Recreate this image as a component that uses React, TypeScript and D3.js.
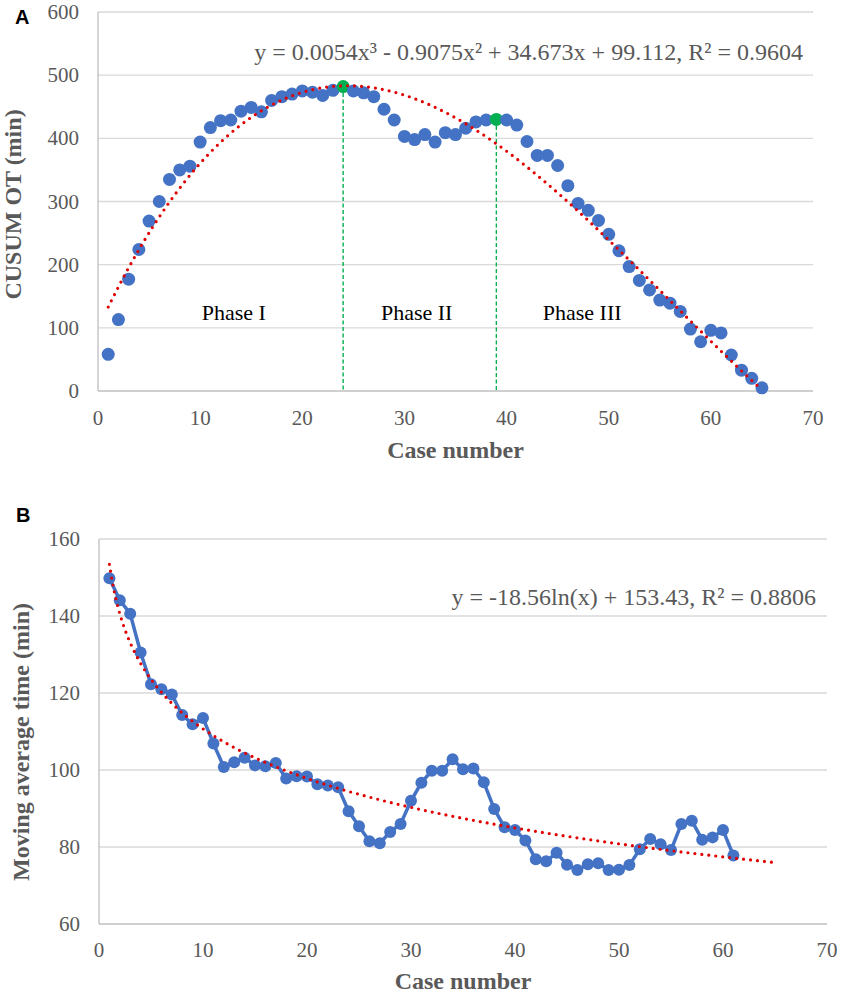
import * as d3 from "d3";
import React from "react";

// Panel A: CUSUM of operative time per case
const cusumOT = [
  58, 113, 177, 224, 269, 300, 335, 350, 356, 394,
  417, 428, 429, 443, 449, 442, 460, 466, 470, 475,
  473, 468, 476, 482, 475, 472, 466, 446, 429, 403,
  398, 406, 394, 409, 406, 416, 426, 429, 430, 429,
  421, 395, 373, 373, 357, 325, 297, 286, 270, 248,
  222, 197, 175, 160, 144, 139, 126, 98, 78, 96,
  92, 57, 33, 20, 5,
];
const turningCases = [24, 39];
const phaseLabels = ["Phase I", "Phase II", "Phase III"];
const phaseCenters = [13.3, 31.2, 47.4];
const polyCoef = [0.0054, -0.9075, 34.673, 99.112]; // x^3, x^2, x, c
const eqA = "y = 0.0054x³ - 0.9075x² + 34.673x + 99.112, R² = 0.9604";

// Panel B: moving average time
const movingAvg = [
  149.8, 144.1, 140.6, 130.5, 122.3, 121.0, 119.6, 114.3, 111.9, 113.5,
  106.9, 100.8, 102.0, 103.2, 101.2, 101.0, 101.8, 97.8, 98.4, 98.3,
  96.3, 96.0, 95.5, 89.3, 85.4, 81.5, 81.0, 83.9, 86.0, 92.0,
  96.7, 99.8, 99.8, 102.8, 100.2, 100.4, 96.8, 89.9, 85.1, 84.4,
  81.7, 76.8, 76.3, 78.5, 75.4, 74.0, 75.5, 75.8, 74.0, 74.1,
  75.3, 79.4, 82.1, 80.7, 79.2, 86.0, 86.8, 81.9, 82.5, 84.4,
  77.8,
];
const logCoef = [-18.56, 153.43]; // a*ln(x) + b
const eqB = "y = -18.56ln(x) + 153.43, R² = 0.8806";

const BLUE = "#4472C4";
const RED = "#e00000";
const GREEN = "#00B050";
const GRID = "#d9d9d9";
const AXIS = "#bfbfbf";
const TEXT = "#595959";
const SERIF = "'Liberation Serif', 'Times New Roman', serif";
const SANS = "'Liberation Sans', Arial, sans-serif";

const trendA = (x: number) =>
  polyCoef[0] * x ** 3 + polyCoef[1] * x ** 2 + polyCoef[2] * x + polyCoef[3];
const trendB = (x: number) => logCoef[0] * Math.log(x) + logCoef[1];

const trendXs = d3.range(1, 65.01, 0.25);

const App: React.FC = () => {
  // ---------- panel A ----------
  const xA = d3.scaleLinear().domain([0, 70]).range([98, 813]);
  const yA = d3.scaleLinear().domain([0, 600]).range([391, 12]);
  const ptsA = cusumOT.map((v, i) => ({ x: i + 1, y: v }));
  const trendPathA = d3
    .line<number>()
    .x((d) => xA(d))
    .y((d) => yA(trendA(d)))(trendXs);

  // ---------- panel B ----------
  const xB = d3.scaleLinear().domain([0, 70]).range([99, 827]);
  const yB = d3.scaleLinear().domain([60, 160]).range([924, 539]);
  const ptsB = movingAvg.map((v, i) => ({ x: i + 1, y: v }));
  const linePathB = d3
    .line<{ x: number; y: number }>()
    .x((d) => xB(d.x))
    .y((d) => yB(d.y))(ptsB);
  const trendPathB = d3
    .line<number>()
    .x((d) => xB(d))
    .y((d) => yB(trendB(d)))(trendXs);

  return (
    <div style={{ position: "absolute", left: 0, top: 0 }}>
      <svg width={867} height={994} style={{ display: "block", background: "#fff" }}>
        {/* ===== Panel A ===== */}
        <text x={15} y={24} fontFamily={SANS} fontWeight="bold" fontSize={20} fill="#000">
          A
        </text>
        {yA.ticks(6).map((t) => (
          <g key={"ga" + t}>
            <line
              x1={xA(0)}
              x2={xA(70)}
              y1={yA(t)}
              y2={yA(t)}
              stroke={t === 0 ? AXIS : GRID}
              strokeWidth={1.3}
            />
            <text
              x={xA(0) - 19}
              y={yA(t)}
              dy="0.34em"
              textAnchor="end"
              fontFamily={SERIF}
              fontSize={21}
              fill={TEXT}
            >
              {t}
            </text>
          </g>
        ))}
        <line x1={xA(0)} x2={xA(0)} y1={yA(0)} y2={yA(600)} stroke={AXIS} strokeWidth={1.3} />
        {xA.ticks(7).map((t) => (
          <text
            key={"xa" + t}
            x={xA(t)}
            y={yA(0) + 34}
            textAnchor="middle"
            fontFamily={SERIF}
            fontSize={21}
            fill={TEXT}
          >
            {t}
          </text>
        ))}
        <text
          x={(xA(0) + xA(70)) / 2}
          y={458}
          textAnchor="middle"
          fontFamily={SERIF}
          fontWeight="bold"
          fontSize={24}
          fill={TEXT}
        >
          Case number
        </text>
        <text
          transform={`translate(21,${(yA(0) + yA(600)) / 2 + 3}) rotate(-90)`}
          textAnchor="middle"
          fontFamily={SERIF}
          fontWeight="bold"
          fontSize={24}
          fill={TEXT}
        >
          CUSUM OT (min)
        </text>

        {turningCases.map((c) => (
          <line
            key={"gl" + c}
            x1={xA(c)}
            x2={xA(c)}
            y1={yA(cusumOT[c - 1])}
            y2={yA(0)}
            stroke={GREEN}
            strokeWidth={1.4}
            strokeDasharray="4 2.5"
          />
        ))}
        {phaseLabels.map((p, i) => (
          <text
            key={p}
            x={xA(phaseCenters[i])}
            y={yA(113)}
            textAnchor="middle"
            fontFamily={SERIF}
            fontSize={22}
            fill="#000"
          >
            {p}
          </text>
        ))}
        {ptsA.map((d) => (
          <circle
            key={"pa" + d.x}
            cx={xA(d.x)}
            cy={yA(d.y)}
            r={6.5}
            fill={turningCases.includes(d.x) ? GREEN : BLUE}
          />
        ))}
        <path
          d={trendPathA ?? ""}
          fill="none"
          stroke={RED}
          strokeWidth={3.2}
          strokeLinecap="round"
          strokeDasharray="0 7"
        />
        <text
          x={803}
          y={60}
          textAnchor="end"
          fontFamily={SERIF}
          fontSize={24}
          fill={TEXT}
        >
          {eqA}
        </text>

        {/* ===== Panel B ===== */}
        <text x={16} y={522} fontFamily={SANS} fontWeight="bold" fontSize={20} fill="#000">
          B
        </text>
        {yB.ticks(5).map((t) => (
          <g key={"gb" + t}>
            <line
              x1={xB(0)}
              x2={xB(70)}
              y1={yB(t)}
              y2={yB(t)}
              stroke={t === 60 ? AXIS : GRID}
              strokeWidth={1.3}
            />
            <text
              x={xB(0) - 19}
              y={yB(t)}
              dy="0.34em"
              textAnchor="end"
              fontFamily={SERIF}
              fontSize={21}
              fill={TEXT}
            >
              {t}
            </text>
          </g>
        ))}
        <line x1={xB(0)} x2={xB(0)} y1={yB(60)} y2={yB(160)} stroke={AXIS} strokeWidth={1.3} />
        {xB.ticks(7).map((t) => (
          <text
            key={"xb" + t}
            x={xB(t)}
            y={yB(60) + 33}
            textAnchor="middle"
            fontFamily={SERIF}
            fontSize={21}
            fill={TEXT}
          >
            {t}
          </text>
        ))}
        <text
          x={(xB(0) + xB(70)) / 2}
          y={989}
          textAnchor="middle"
          fontFamily={SERIF}
          fontWeight="bold"
          fontSize={24}
          fill={TEXT}
        >
          Case number
        </text>
        <text
          transform={`translate(29,742) rotate(-90)`}
          textAnchor="middle"
          fontFamily={SERIF}
          fontWeight="bold"
          fontSize={24}
          fill={TEXT}
        >
          Moving average time (min)
        </text>

        <path d={linePathB ?? ""} fill="none" stroke={BLUE} strokeWidth={3.5} strokeLinejoin="round" />
        {ptsB.map((d) => (
          <circle key={"pb" + d.x} cx={xB(d.x)} cy={yB(d.y)} r={6} fill={BLUE} />
        ))}
        <path
          d={trendPathB ?? ""}
          fill="none"
          stroke={RED}
          strokeWidth={3.2}
          strokeLinecap="round"
          strokeDasharray="0 7"
        />
        <text
          x={816}
          y={605}
          textAnchor="end"
          fontFamily={SERIF}
          fontSize={24}
          fill={TEXT}
        >
          {eqB}
        </text>
      </svg>
    </div>
  );
};

export default App;
